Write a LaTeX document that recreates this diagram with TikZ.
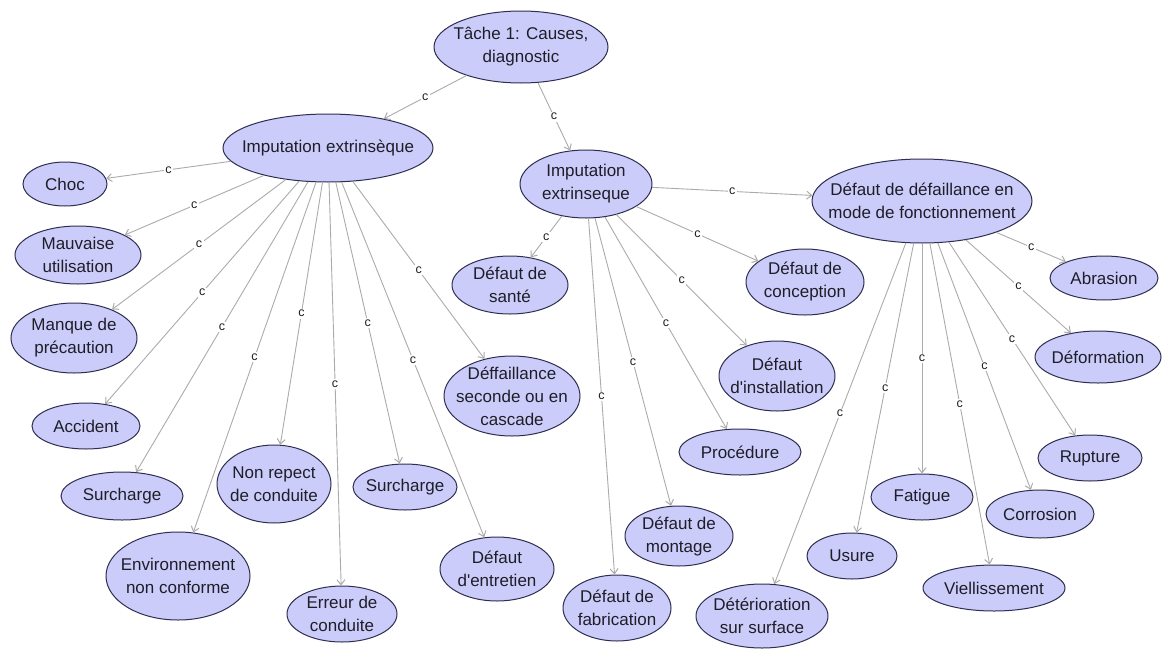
\documentclass[tikz,border=0pt]{standalone}
\usepackage{fontspec}
\newfontfamily\lsans{Liberation Sans}
\usetikzlibrary{shapes.geometric,arrows.meta}
\definecolor{bubfill}{HTML}{CCCCFA}
\definecolor{bubline}{HTML}{2E2E50}
\definecolor{edgecol}{HTML}{ABABAB}
\definecolor{txtcol}{HTML}{1E1E28}
\tikzset{
  bub/.style={ellipse, draw=bubline, fill=bubfill, line width=1pt, inner sep=0pt},
  txt/.style={font=\lsans\fontsize{17}{23}\selectfont, text=txtcol, align=center, inner sep=0pt},
  edge/.style={draw=edgecol, line width=0.9pt, -{Straight Barb[length=5pt,width=8pt,line width=1pt]}},
  lab/.style={midway, fill=white, inner sep=1.5pt, font=\lsans\fontsize{12.5}{12.5}\selectfont, text=txtcol}
}
\newcommand\bubble[6]{%
  \node[bub, minimum width=#4pt, minimum height=#5pt] (#1) at (#2,#3) {};
  \node[txt] (#1-t) at (#1.center) {#6};}
\begin{document}
\begin{tikzpicture}[x=1pt,y=-1pt]
\useasboundingbox (0,0) rectangle (1162,648);
\bubble{root}{521}{47}{174}{72}{Tâche 1: Causes,\\diagnostic}
\bubble{imp1}{328}{148}{210}{68}{Imputation extrinsèque}
\bubble{imp2}{586}{184}{132}{68}{Imputation\\extrinseque}
\bubble{ddf}{922}{201}{220}{84}{Défaut de défaillance en\\mode de fonctionnement}
\bubble{choc}{65}{184}{84}{44}{Choc}
\bubble{mauv}{78}{255}{126}{58}{Mauvaise\\utilisation}
\bubble{manq}{74}{338}{126}{70}{Manque de\\précaution}
\bubble{acc}{86}{426}{108}{46}{Accident}
\bubble{surA}{122}{496}{122}{48}{Surcharge}
\bubble{env}{178}{576}{144}{88}{Environnement\\non conforme}
\bubble{nonr}{274}{484}{114}{78}{Non repect\\de conduite}
\bubble{err}{342}{614}{110}{56}{Erreur de\\conduite}
\bubble{surB}{405}{487}{104}{46}{Surcharge}
\bubble{entr}{497}{569}{114}{64}{Défaut\\d'entretien}
\bubble{casc}{512}{396}{136}{80}{Déffaillance\\seconde ou en\\cascade}
\bubble{sante}{510}{285}{116}{58}{Défaut de\\santé}
\bubble{conc}{805}{282}{118}{66}{Défaut de\\conception}
\bubble{inst}{777}{376}{116}{70}{Défaut\\d'installation}
\bubble{proc}{740}{452}{122}{46}{Procédure}
\bubble{mont}{679}{536}{108}{60}{Défaut de\\montage}
\bubble{fabr}{617}{608}{108}{66}{Défaut de\\fabrication}
\bubble{deter}{762}{616}{132}{64}{Détérioration\\sur surface}
\bubble{usure}{852}{556}{90}{46}{Usure}
\bubble{fat}{922}{497}{102}{46}{Fatigue}
\bubble{viel}{994}{588}{142}{46}{Viellissement}
\bubble{corr}{1040}{514}{108}{48}{Corrosion}
\bubble{rupt}{1090}{458}{104}{46}{Rupture}
\bubble{defo}{1098}{357}{126}{52}{Déformation}
\bubble{abra}{1104}{278}{108}{44}{Abrasion}
% edges
\foreach \a/\b in {root/imp1, root/imp2,
  imp1/choc, imp1/mauv, imp1/manq, imp1/acc, imp1/surA, imp1/env, imp1/nonr, imp1/err, imp1/surB, imp1/entr, imp1/casc,
  imp2/ddf, imp2/sante, imp2/conc, imp2/inst, imp2/proc, imp2/mont, imp2/fabr,
  ddf/abra, ddf/defo, ddf/rupt, ddf/corr, ddf/viel, ddf/fat, ddf/usure, ddf/deter}
  \draw[edge] (\a) -- node[lab] (\a-\b-l) {c} (\b);
\end{tikzpicture}
\end{document}
